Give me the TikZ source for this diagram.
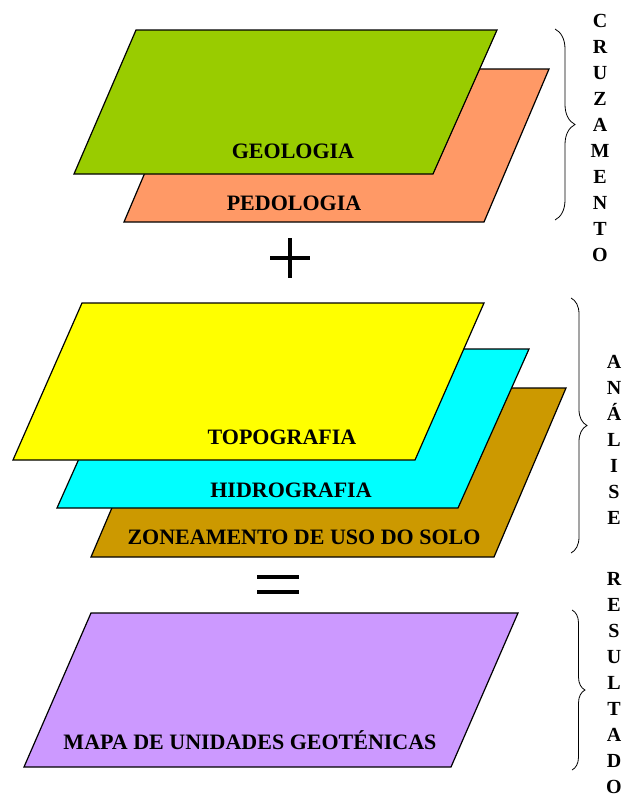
\documentclass[tikz,border=0pt]{standalone}
\usepackage{fontspec}
\setmainfont{Liberation Serif}
\usetikzlibrary{decorations.pathreplacing}

\definecolor{geogreen}{RGB}{153,204,0}
\definecolor{pedpeach}{RGB}{255,153,102}
\definecolor{topoyellow}{RGB}{255,255,0}
\definecolor{hidrocyan}{RGB}{0,255,255}
\definecolor{zonabrown}{RGB}{204,153,0}
\definecolor{mapaviolet}{RGB}{204,153,255}

\begin{document}
\begin{tikzpicture}[x=1pt,y=-1pt,
    layer/.style={draw=black,line width=1.2pt},
    lbl/.style={font=\fontsize{22}{26}\selectfont\bfseries,inner sep=0pt},
    side/.style={font=\fontsize{20}{26}\selectfont\bfseries,align=center,inner sep=0pt,anchor=north},
    curly/.style={decorate,decoration={brace,amplitude=#1},line width=0.8pt}]
        \useasboundingbox (0,0) rectangle (622,798);
        % cruzamento
        \filldraw[layer,fill=pedpeach] (189,69) -- (549,69) -- (484,222) -- (124,222) -- cycle;
        \filldraw[layer,fill=geogreen] (136,30) -- (497,30) -- (433,174) -- (74,174) -- cycle;
        \node[lbl] (geo) at (293,151) {GEOLOGIA};
        \node[lbl] (ped) at (294,203) {PEDOLOGIA};
        \draw[curly=20pt] (555,29) -- (555,220);
        \node[side] (cruz) at (600,14) {C\\R\\U\\Z\\A\\M\\E\\N\\T\\O};
        \draw[line width=4pt] (270,258) -- (310,258);
        \draw[line width=4pt] (290,238) -- (290,278);
        % analise
        \filldraw[layer,fill=zonabrown] (163,388) -- (566,388) -- (494,557) -- (91,557) -- cycle;
        \filldraw[layer,fill=hidrocyan] (128,349) -- (529,349) -- (458,508) -- (57,508) -- cycle;
        \filldraw[layer,fill=topoyellow] (82,303) -- (484,303) -- (415,460) -- (13,460) -- cycle;
        \node[lbl] (topo) at (282,437) {TOPOGRAFIA};
        \node[lbl] (hidro) at (291,490) {HIDROGRAFIA};
        \node[lbl] (zona) at (304,537) {ZONEAMENTO DE USO DO SOLO};
        \draw[curly=16pt] (571,298) -- (571,553);
        \node[side] (anal) at (614,355) {A\\N\\Á\\L\\I\\S\\E};
        \draw[line width=4.5pt] (257,577) -- (299,577);
        \draw[line width=4.5pt] (257,592) -- (299,592);
        % resultado
        \filldraw[layer,fill=mapaviolet] (91,613) -- (518,613) -- (451,767) -- (24,767) -- cycle;
        \node[lbl] (mapa) at (250,740) {MAPA DE UNIDADES GEOTÉNICAS};
        \draw[curly=13pt] (572,610) -- (572,770);
        \node[side] (resul) at (614,572) {R\\E\\S\\U\\L\\T\\A\\D\\O};
    \end{tikzpicture}
\end{document}
